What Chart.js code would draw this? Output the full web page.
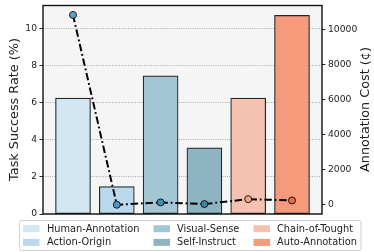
<!DOCTYPE html>
<html>
<head>
<meta charset="utf-8">
<script src="https://cdn.jsdelivr.net/npm/chart.js@4/dist/chart.umd.min.js"></script>
<style>
  html, body { margin: 0; padding: 0; background: #fff; }
  canvas { display: block; }
</style>
</head>
<body>
<canvas id="chart" width="374" height="252"></canvas>
<script>
// data
const methods = ["Human-Annotation", "Action-Origin", "Visual-Sense", "Self-Instruct", "Chain-of-Tought", "Auto-Annotation"];
const successRate = [6.25, 1.48, 7.46, 3.57, 6.25, 10.72];
const annotationCost = [10860, 0, 135, 40, 320, 245];
const rateTicks = [0, 2, 4, 6, 8, 10];
const costTicks = [0, 2000, 4000, 6000, 8000, 10000];

const barColors = ["#d2e6f3", "#bbd9ec", "#a3c6d6", "#8eb4c1", "#f5c2b2", "#f59b7b"];
const markerColors = ["#5ba3cf", "#4a98c9", "#3e8fb0", "#3a88a4", "#f3a58a", "#e9694a"];

const FONT = "'DejaVu Sans', sans-serif";

// background, frame, axis titles and the 3-column legend
const decor = {
  id: 'decor',
  beforeDraw(chart) {
    const ctx = chart.ctx;
    const a = chart.chartArea;
    ctx.save();
    ctx.fillStyle = '#fff';
    ctx.fillRect(0, 0, chart.width, chart.height);
    ctx.fillStyle = '#f5f5f5';
    ctx.fillRect(a.left, a.top, a.right - a.left, a.bottom - a.top);
    ctx.restore();
  },
  afterDraw(chart) {
    const ctx = chart.ctx;
    const a = chart.chartArea;
    ctx.save();
    ctx.strokeStyle = '#111';
    ctx.lineWidth = 1.4;
    ctx.strokeRect(a.left, a.top + 0.5, a.right - a.left, a.bottom - a.top - 0.5);

    // axis titles
    ctx.fillStyle = '#222';
    ctx.font = '12.8px ' + FONT;
    ctx.textAlign = 'center';
    ctx.textBaseline = 'middle';
    const midY = (a.top + a.bottom) / 2;
    ctx.save();
    ctx.translate(15, midY);
    ctx.rotate(-Math.PI / 2);
    ctx.fillText('Task Success Rate (%)', 0, 0);
    ctx.restore();
    ctx.save();
    ctx.translate(366, midY);
    ctx.rotate(-Math.PI / 2);
    ctx.fillText('Annotation Cost (¢)', 0, 0);
    ctx.restore();

    // legend box
    const bx = 19.5, by = 220.5, bw = 341.5, bh = 30;
    ctx.beginPath();
    ctx.roundRect(bx, by, bw, bh, 2);
    ctx.fillStyle = 'rgba(255,255,255,0.85)';
    ctx.fill();
    ctx.strokeStyle = '#d0d0d0';
    ctx.lineWidth = 1;
    ctx.stroke();

    const patchX = [23, 153.5, 253.5];
    const textX = [47, 177, 277];
    const rowY = [228.7, 242.4];
    ctx.font = '9.8px ' + FONT;
    ctx.textAlign = 'left';
    ctx.textBaseline = 'middle';
    methods.forEach((m, i) => {
      const col = Math.floor(i / 2);
      const row = i % 2;
      ctx.fillStyle = barColors[i];
      ctx.fillRect(patchX[col], rowY[row] - 3.5, 16.5, 7);
      ctx.fillStyle = '#222';
      ctx.fillText(m, textX[col], rowY[row] + 0.5);
    });
    ctx.restore();
  }
};

function fixWidth(w) {
  return function (scale) {
    scale.width = w;
    scale.paddingTop = 0;
    scale.paddingBottom = 0;
  };
}

new Chart(document.getElementById('chart'), {
  data: {
    datasets: [
      {
        type: 'line',
        label: 'Annotation Cost',
        data: methods.map((m, i) => ({ x: i, y: annotationCost[i] })),
        yAxisID: 'y1',
        borderColor: '#000',
        borderWidth: 2,
        borderDash: [7.5, 2.8, 1.8, 2.8],
        pointRadius: 3.5,
        pointBackgroundColor: markerColors,
        pointBorderColor: '#1a1a1a',
        pointBorderWidth: 1,
        tension: 0,
        order: 0
      },
      {
        type: 'bar',
        label: 'Task Success Rate',
        data: methods.map((m, i) => ({ x: i, y: successRate[i] })),
        yAxisID: 'y',
        backgroundColor: barColors,
        borderColor: '#262626',
        borderWidth: 1.2,
        borderSkipped: false,
        barThickness: 35,
        order: 1
      }
    ]
  },
  options: {
    responsive: false,
    animation: false,
    devicePixelRatio: 1,
    layout: { padding: { left: 0, right: 0, top: 0, bottom: 38 } },
    plugins: {
      legend: { display: false },
      tooltip: { enabled: false }
    },
    scales: {
      x: {
        type: 'linear',
        display: false,
        offset: false,
        min: -0.685,
        max: 5.685,
        grid: { offset: false },
        ticks: { stepSize: 1, includeBounds: false }
      },
      y: {
        type: 'linear',
        position: 'left',
        min: 0,
        max: 11.28,
        afterFit: fixWidth(43),
        afterBuildTicks: s => { s.ticks = rateTicks.map(v => ({ value: v })); },
        ticks: {
          font: { family: FONT, size: 9.2 },
          color: '#222',
          padding: 2.5,
          callback: v => String(v)
        },
        grid: {
          color: '#999',
          lineWidth: 0.8,
          drawTicks: true,
          tickLength: 3.5,
          tickColor: '#111',
          tickWidth: 0.9
        },
        border: { display: false, dash: [1, 1.3] }
      },
      y1: {
        type: 'linear',
        position: 'right',
        min: -530,
        max: 11430,
        afterFit: fixWidth(52),
        afterBuildTicks: s => { s.ticks = costTicks.map(v => ({ value: v })); },
        ticks: {
          font: { family: FONT, size: 9.2 },
          color: '#222',
          padding: 2.5,
          callback: v => String(v)
        },
        grid: {
          drawOnChartArea: false,
          drawTicks: true,
          tickLength: 3.5,
          tickColor: '#111',
          tickWidth: 0.9
        },
        border: { display: false }
      }
    }
  },
  plugins: [decor]
});
</script>
</body>
</html>
